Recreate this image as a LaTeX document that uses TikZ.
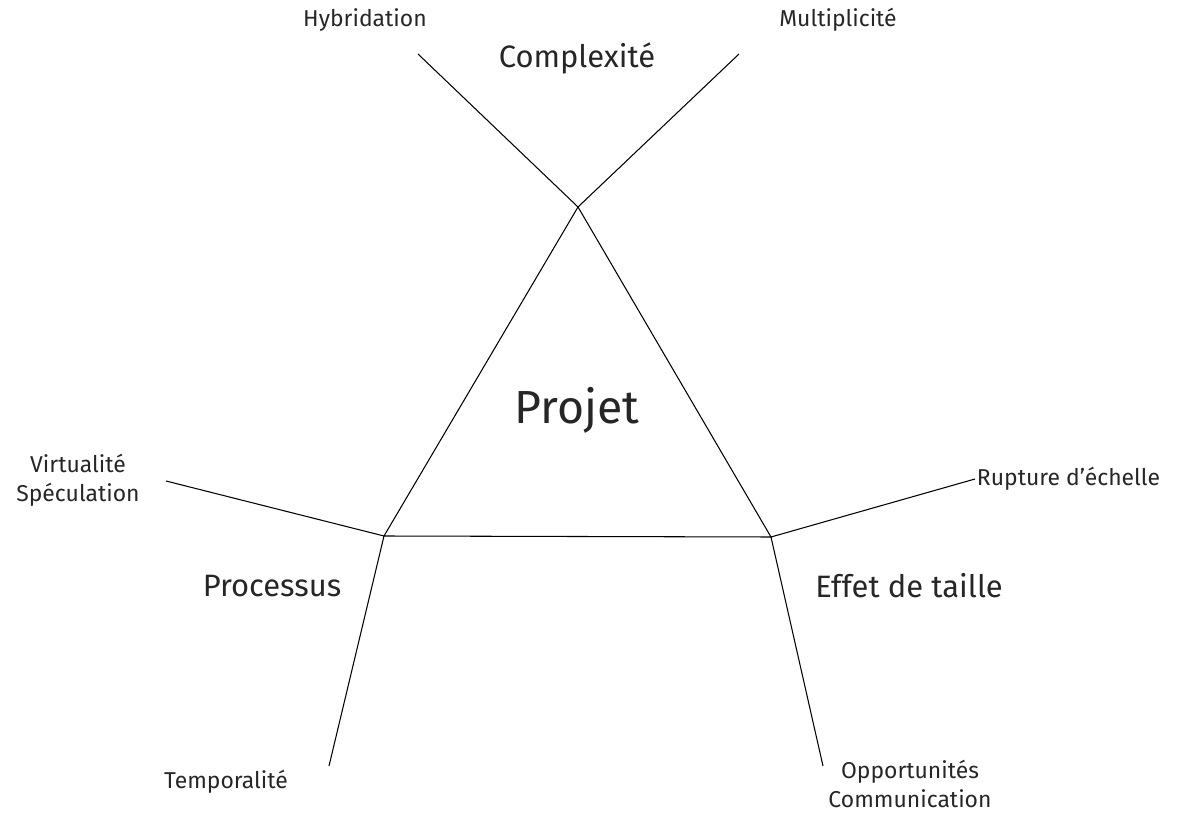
\documentclass[tikz,border=0pt]{standalone}
\usepackage{fontspec}
\setmainfont{Fira Sans}
\begin{document}
\begin{tikzpicture}[x=0.025cm,y=-0.025cm,line width=0.75pt]
  \useasboundingbox (0,0) rectangle (1180,813);
  \tikzset{
    small/.style={font=\fontsize{16.3}{20.5}\selectfont,align=center,text=black!85},
    medium/.style={font=\fontsize{22}{26}\selectfont,text=black!85},
    large/.style={font=\fontsize{33}{38}\selectfont,text=black!85}
  }

  % Coordinates
  \coordinate (top) at (578,207);
  \coordinate (left) at (384,536);
  \coordinate (right) at (771,537);
  % free ends of the branches
  \coordinate (hyb) at (418,54);
  \coordinate (mult) at (739,54);
  \coordinate (virt) at (166,481);
  \coordinate (temp) at (329,766);
  \coordinate (rupt) at (975,479);
  \coordinate (opp) at (823,766);

  % triangle
  \draw (top) -- (left) -- (right) -- cycle;

  % branches
  \draw (top) -- (hyb);
  \draw (top) -- (mult);
  \draw (left) -- (virt);
  \draw (left) -- (temp);
  \draw (right) -- (rupt);
  \draw (right) -- (opp);

  % labels
  \node[large] (projet) at (577,410) {Projet};
  \node[medium] (complex) at (577,58) {Complexité};
  \node[medium] (process) at (272,586) {Processus};
  \node[medium] (effet) at (909,586) {Effet de taille};
  \node[small] (hybl) at (365,20) {Hybridation};
  \node[small] (multl) at (838,20) {Multiplicité};
  \node[small] (virtl) at (78,480) {Virtualité\\Spéculation};
  \node[small] (templ) at (226,782) {Temporalité};
  \node[small,anchor=west,inner sep=1pt] (ruptl) at (rupt) {Rupture d’échelle};
  \node[small] (oppl) at (910,784) {Opportunités\\Communication};
\end{tikzpicture}
\end{document}
